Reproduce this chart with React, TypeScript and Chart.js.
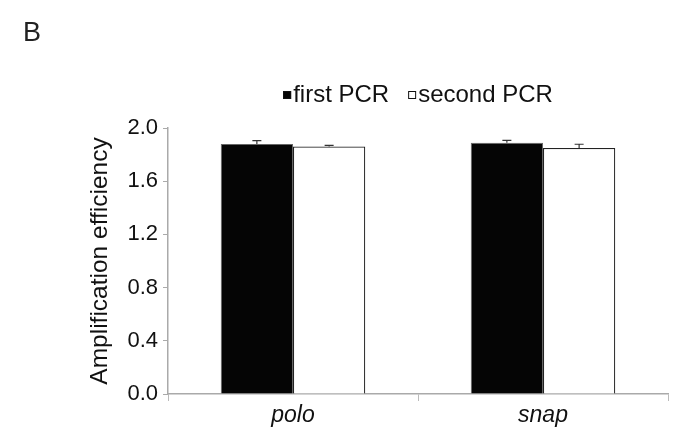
import React, { useEffect, useRef } from "react";
import { Chart, registerables } from "chart.js";

Chart.register(...registerables);

const categories = ["polo", "snap"];
const seriesNames = ["first PCR", "second PCR"];
const firstPCR = [1.88, 1.89];
const secondPCR = [1.86, 1.85];
const firstErr = [0.025, 0.017];
const secondErr = [0.01, 0.028];
const yTicks = [0, 0.4, 0.8, 1.2, 1.6, 2.0];
const panelLabel = "B";
const yTitle = "Amplification efficiency";

const FONT = "'Liberation Sans', Arial, Helvetica, sans-serif";

const errorBarPlugin = {
  id: "errorBars",
  afterDatasetsDraw(chart: any) {
    const ctx = chart.ctx;
    const errs = [firstErr, secondErr];
    const yScale = chart.scales.y;
    chart.data.datasets.forEach((ds: any, di: number) => {
      const meta = chart.getDatasetMeta(di);
      meta.data.forEach((bar: any, i: number) => {
        const v = ds.data[i];
        const e = errs[di][i];
        const yTop = yScale.getPixelForValue(v + e);
        const yBase = yScale.getPixelForValue(v);
        ctx.save();
        ctx.strokeStyle = "#333";
        ctx.lineWidth = 1.2;
        ctx.beginPath();
        ctx.moveTo(bar.x, yBase);
        ctx.lineTo(bar.x, yTop);
        ctx.moveTo(bar.x - 4.5, yTop);
        ctx.lineTo(bar.x + 4.5, yTop);
        ctx.stroke();
        ctx.restore();
      });
    });
  },
};

const legendAndLabelPlugin = {
  id: "legendAndLabel",
  afterDraw(chart: any) {
    const ctx = chart.ctx;
    ctx.save();
    ctx.fillStyle = "#222";
    ctx.font = `27px ${FONT}`;
    ctx.textBaseline = "top";
    ctx.textAlign = "left";
    ctx.fillText(panelLabel, 23, 20);

    // legend
    ctx.font = `24px ${FONT}`;
    const box = 8;
    const gap = 2;
    const itemGap = 19;
    const widths = seriesNames.map((s) => box + gap + ctx.measureText(s).width);
    const total = widths.reduce((a, b) => a + b, 0) + itemGap;
    const area = chart.chartArea;
    let x = (area.left + area.right) / 2 - total / 2;
    const cy = 95;
    const ds = chart.data.datasets;
    seriesNames.forEach((s, i) => {
      ctx.fillStyle = ds[i].backgroundColor;
      ctx.fillRect(x, cy - box / 2, box, box);
      ctx.strokeStyle = "#111";
      ctx.lineWidth = 1;
      ctx.strokeRect(x + 0.5, cy - box / 2 + 0.5, box - 1, box - 1);
      ctx.fillStyle = "#111";
      ctx.textBaseline = "middle";
      ctx.fillText(s, x + box + gap, cy);
      x += widths[i] + itemGap;
    });
    ctx.restore();
  },
};

export default function App() {
  const ref = useRef<HTMLCanvasElement | null>(null);
  useEffect(() => {
    document.body.style.margin = "0";
    const chart = new Chart(ref.current as HTMLCanvasElement, {
      type: "bar",
      data: {
        labels: categories,
        datasets: [
          {
            label: seriesNames[0],
            data: firstPCR,
            backgroundColor: "#050505",
            borderColor: "#666",
            borderWidth: 1,
            categoryPercentage: 0.578,
            barPercentage: 1,
          },
          {
            label: seriesNames[1],
            data: secondPCR,
            backgroundColor: "#ffffff",
            borderColor: "#222",
            borderWidth: 1.2,
            categoryPercentage: 0.578,
            barPercentage: 1,
          },
        ],
      },
      options: {
        animation: false,
        responsive: false,
        layout: { padding: { left: 86, right: 13, top: 128, bottom: 0 } },
        plugins: {
          legend: { display: false },
          tooltip: { enabled: false },
        },
        scales: {
          x: {
            offset: true,
            grid: {
              display: true,
              offset: true,
              drawOnChartArea: false,
              drawTicks: true,
              tickLength: 7,
              color: "#bbb",
            },
            border: { display: true, color: "#aaa", width: 1.5 },
            ticks: {
              color: "#111",
              padding: 1,
              font: { family: FONT, size: 23, style: "italic" },
            },
            afterFit(scale: any) {
              scale.height = 47;
            },
          },
          y: {
            min: 0,
            max: 2.0,
            afterBuildTicks(scale: any) {
              scale.ticks = yTicks.map((v) => ({ value: v }));
            },
            grid: {
              display: true,
              drawOnChartArea: false,
              drawTicks: true,
              tickLength: 5,
              color: "#aaa",
            },
            border: { display: true, color: "#aaa", width: 1.5 },
            ticks: {
              color: "#111",
              padding: 5,
              font: { family: FONT, size: 22 },
              callback: (v: any) => Number(v).toFixed(1),
            },
            title: {
              display: true,
              text: yTitle,
              color: "#111",
              padding: { top: 0, bottom: 0 },
              font: { family: FONT, size: 24.5 },
            },
            afterFit(scale: any) {
              scale.width = 82;
            },
          },
        },
      },
      plugins: [errorBarPlugin, legendAndLabelPlugin],
    });
    return () => chart.destroy();
  }, []);
  return (
    <div style={{ width: 681, height: 441 }}>
      <canvas ref={ref} width={681} height={441} style={{ display: "block" }} />
    </div>
  );
}
